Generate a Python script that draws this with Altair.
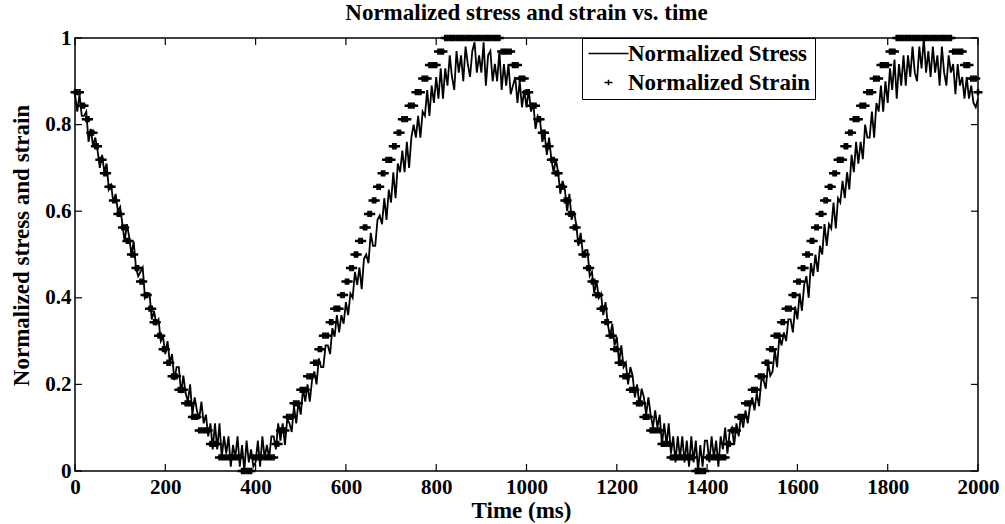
import altair as alt
import pandas as pd

title_text = "Normalized stress and strain vs. time"
x_title = "Time (ms)"
y_title = "Normalized stress and strain"
series_names = ["Normalized Stress", "Normalized Strain"]
x_ticks = [0, 200, 400, 600, 800, 1000, 1200, 1400, 1600, 1800, 2000]
y_ticks = [0, 0.2, 0.4, 0.6, 0.8, 1]

# sampling grid, 5 ms
time_ms = list(range(0, 2001, 5))

# strain, read as quantised levels (level / 32)
strain_level_32 = [
    28, 28, 28, 27, 27, 26, 26, 25, 25, 24, 24, 23, 23, 22, 22, 21, 21, 20, 20, 19,
    19, 18, 18, 17, 17, 16, 16, 15, 15, 14, 14, 13, 13, 12, 12, 11, 11, 10, 10, 9,
    9, 8, 8, 7, 7, 7, 6, 6, 6, 5, 5, 5, 4, 4, 4, 3, 3, 3, 3, 3,
    2, 2, 2, 2, 1, 1, 1, 1, 1, 1, 1, 1, 1, 1, 0, 0, 0, 0, 0, 1,
    1, 1, 1, 1, 1, 1, 1, 1, 1, 2, 2, 3, 3, 3, 4, 4, 4, 5, 5, 5,
    6, 6, 6, 7, 7, 7, 8, 8, 9, 9, 10, 10, 10, 11, 11, 12, 12, 12, 13, 13,
    14, 14, 15, 15, 16, 16, 17, 17, 18, 18, 19, 19, 20, 20, 21, 21, 22, 22, 23, 23,
    23, 24, 24, 25, 25, 26, 26, 26, 27, 27, 27, 28, 28, 28, 29, 29, 29, 30, 30, 30,
    30, 31, 31, 31, 32, 32, 32, 32, 32, 32, 32, 32, 32, 32, 32, 32, 32, 32, 32, 32,
    32, 32, 32, 32, 32, 32, 32, 32, 32, 31, 31, 31, 31, 31, 30, 30, 30, 29, 29, 29,
    28, 28, 27, 27, 27, 26, 26, 25, 25, 24, 24, 23, 23, 22, 22, 21, 21, 20, 20, 19,
    19, 18, 18, 17, 17, 16, 16, 15, 15, 14, 14, 13, 13, 12, 12, 11, 11, 10, 10, 9,
    9, 8, 8, 7, 7, 7, 6, 6, 6, 5, 5, 5, 4, 4, 4, 3, 3, 3, 3, 3,
    2, 2, 2, 2, 1, 1, 1, 1, 1, 1, 1, 1, 1, 1, 1, 0, 0, 0, 0, 0,
    1, 1, 1, 1, 1, 1, 1, 1, 1, 2, 2, 3, 3, 3, 4, 4, 4, 5, 5, 5,
    6, 6, 6, 7, 7, 7, 8, 8, 9, 9, 10, 10, 10, 11, 11, 12, 12, 12, 13, 13,
    14, 14, 15, 15, 16, 16, 17, 17, 18, 18, 19, 19, 20, 20, 21, 21, 22, 22, 23, 23,
    23, 24, 24, 25, 25, 26, 26, 26, 27, 27, 27, 28, 28, 28, 29, 29, 29, 30, 30, 30,
    30, 31, 31, 31, 32, 32, 32, 32, 32, 32, 32, 32, 32, 32, 32, 32, 32, 32, 32, 32,
    32, 32, 32, 32, 32, 32, 32, 32, 32, 31, 31, 31, 31, 31, 30, 30, 30, 29, 29, 29,
    28,
]

# stress, read in hundredths
stress_pct = [
    87, 83, 87, 82, 82, 83, 76, 79, 75, 77, 74, 70, 73, 69, 71, 65, 66, 62, 64, 60,
    61, 57, 53, 57, 54, 50, 53, 47, 45, 46, 47, 40, 41, 41, 35, 37, 34, 35, 30, 31,
    27, 30, 25, 27, 21, 24, 24, 18, 22, 18, 16, 20, 13, 17, 14, 12, 16, 11, 13, 8,
    11, 5, 11, 5, 11, 3, 8, 4, 8, 1, 6, 3, 8, 1, 6, 0, 7, 2, 5, 1,
    2, 7, 1, 8, 3, 6, 3, 8, 8, 5, 11, 7, 11, 6, 12, 11, 9, 15, 11, 16,
    13, 19, 16, 20, 16, 21, 23, 20, 26, 24, 24, 29, 29, 27, 33, 31, 36, 32, 36, 34,
    39, 36, 41, 40, 46, 43, 47, 42, 49, 50, 48, 55, 52, 52, 58, 59, 57, 63, 58, 65,
    62, 69, 63, 71, 69, 74, 69, 76, 70, 77, 80, 77, 82, 77, 83, 82, 88, 82, 89, 85,
    91, 86, 93, 86, 93, 89, 96, 91, 88, 97, 92, 96, 90, 98, 94, 91, 97, 99, 92, 96,
    92, 99, 89, 96, 97, 90, 94, 90, 97, 88, 94, 89, 94, 87, 89, 91, 85, 90, 84, 88,
    84, 88, 83, 85, 79, 82, 81, 76, 78, 73, 77, 72, 69, 72, 69, 64, 67, 65, 60, 64,
    58, 60, 57, 52, 55, 50, 51, 51, 45, 46, 41, 44, 40, 41, 36, 39, 34, 31, 34, 29,
    31, 25, 29, 24, 25, 20, 24, 22, 17, 20, 15, 19, 17, 13, 17, 13, 10, 14, 10, 13,
    6, 11, 6, 11, 4, 8, 2, 8, 3, 8, 2, 7, 1, 8, 2, 7, 0, 6, 1, 7,
    7, 2, 8, 3, 7, 1, 8, 5, 10, 4, 9, 10, 6, 11, 8, 13, 10, 14, 11, 15,
    17, 14, 18, 15, 21, 21, 19, 25, 22, 23, 28, 24, 31, 29, 32, 30, 35, 35, 32, 38,
    35, 41, 37, 43, 45, 40, 48, 45, 50, 46, 52, 50, 57, 52, 57, 56, 62, 56, 63, 62,
    67, 63, 69, 65, 73, 69, 76, 71, 76, 72, 80, 77, 77, 83, 77, 85, 83, 89, 83, 90,
    85, 93, 88, 95, 86, 94, 89, 96, 89, 96, 91, 98, 92, 90, 98, 93, 100, 92, 97, 91,
    98, 92, 96, 89, 98, 92, 89, 96, 92, 94, 87, 94, 89, 91, 86, 91, 86, 89, 85, 84,
    86,
]

assert len(time_ms) == len(strain_level_32) == len(stress_pct)

df = pd.DataFrame({
    "t": time_ms,
    "strain": [v / 32 for v in strain_level_32],
    "stress": [v / 100 for v in stress_pct],
    "series": series_names[1],
})
df_xt = pd.DataFrame({"v": x_ticks})
df_yt = pd.DataFrame({"v": y_ticks})
df_title = pd.DataFrame({"label": [title_text]})

FONT = "Liberation Serif"
W, H = 903, 433
TICK = 7

xscale = alt.Scale(domain=[0, 2000], nice=False, zero=False)
yscale = alt.Scale(domain=[0, 1], nice=False, zero=False)

xaxis = alt.Axis(
    values=x_ticks, format="d", title=x_title, ticks=False, tickSize=0,
    domain=False, grid=False, labelFlush=False, labelOverlap=False,
    labelFont=FONT, labelFontSize=21, labelFontWeight="bold", labelColor="black",
    labelPadding=5,
    titleFont=FONT, titleFontSize=23, titleFontWeight="bold", titleColor="black",
    titleX=446, titleY=39, titleBaseline="middle", titleAlign="center",
)
yaxis = alt.Axis(
    values=y_ticks, format="~g", title=y_title, ticks=False, tickSize=0,
    domain=False, grid=False, labelFlush=False, labelOverlap=False,
    labelFont=FONT, labelFontSize=21, labelFontWeight="bold", labelColor="black",
    labelPadding=4, labelBaseline="middle",
    titleFont=FONT, titleFontSize=23, titleFontWeight="bold", titleColor="black",
    titleX=-54, titleY=207, titleAngle=270, titleBaseline="middle", titleAlign="center",
)

line_path = "M-5,0L5,0"
plus_path = "M-1,0L1,0M0,-0.7L0,0.7"

stress_line = alt.Chart(df).mark_line(color="black", strokeWidth=1.8).encode(
    x=alt.X("t:Q", scale=xscale, axis=xaxis),
    y=alt.Y("stress:Q", scale=yscale, axis=yaxis),
)

strain_pts = alt.Chart(df).mark_point(
    filled=False, color="black", size=81, strokeWidth=2.5, opacity=1
).encode(
    x=alt.X("t:Q", scale=xscale, axis=xaxis),
    y=alt.Y("strain:Q", scale=yscale, axis=yaxis),
    shape=alt.Shape(
        "series:N",
        scale=alt.Scale(domain=series_names, range=[line_path, plus_path]),
        legend=alt.Legend(
            title=None, orient="none", legendX=507, legendY=0,
            padding=4, strokeColor="black", fillColor="white",
            symbolSize=64, symbolStrokeWidth=1.5, symbolStrokeColor="black",
            symbolOffset=11, labelOffset=8, rowPadding=5,
            labelFont=FONT, labelFontSize=23, labelFontWeight="bold",
            labelColor="black", labelLimit=400,
        ),
    ),
)

tick_bottom = alt.Chart(df_xt).mark_rule(color="black", strokeWidth=1.2).encode(
    x=alt.X("v:Q", scale=xscale, axis=xaxis), y=alt.value(H), y2=alt.value(H - TICK)
)
tick_top = alt.Chart(df_xt).mark_rule(color="black", strokeWidth=1.2).encode(
    x=alt.X("v:Q", scale=xscale, axis=xaxis), y=alt.value(0), y2=alt.value(TICK)
)
tick_left = alt.Chart(df_yt).mark_rule(color="black", strokeWidth=1.2).encode(
    y=alt.Y("v:Q", scale=yscale, axis=yaxis), x=alt.value(0), x2=alt.value(TICK)
)
tick_right = alt.Chart(df_yt).mark_rule(color="black", strokeWidth=1.2).encode(
    y=alt.Y("v:Q", scale=yscale, axis=yaxis), x=alt.value(W), x2=alt.value(W - TICK)
)

title_mark = alt.Chart(df_title).mark_text(
    font=FONT, fontSize=23, fontWeight="bold", color="black",
    baseline="alphabetic", align="center",
).encode(x=alt.value(W / 2), y=alt.value(-18), text="label:N")

chart = alt.layer(
    tick_bottom, tick_top, tick_left, tick_right, stress_line, strain_pts, title_mark
).properties(
    width=W, height=H,
    autosize=alt.AutoSizeParams(type="none"),
    padding={"left": 75, "top": 38, "right": 27, "bottom": 53},
    background="white",
).configure_view(stroke="black", strokeWidth=1.5)

chart.save("out.html", embed_options={"renderer": "svg", "actions": False})
